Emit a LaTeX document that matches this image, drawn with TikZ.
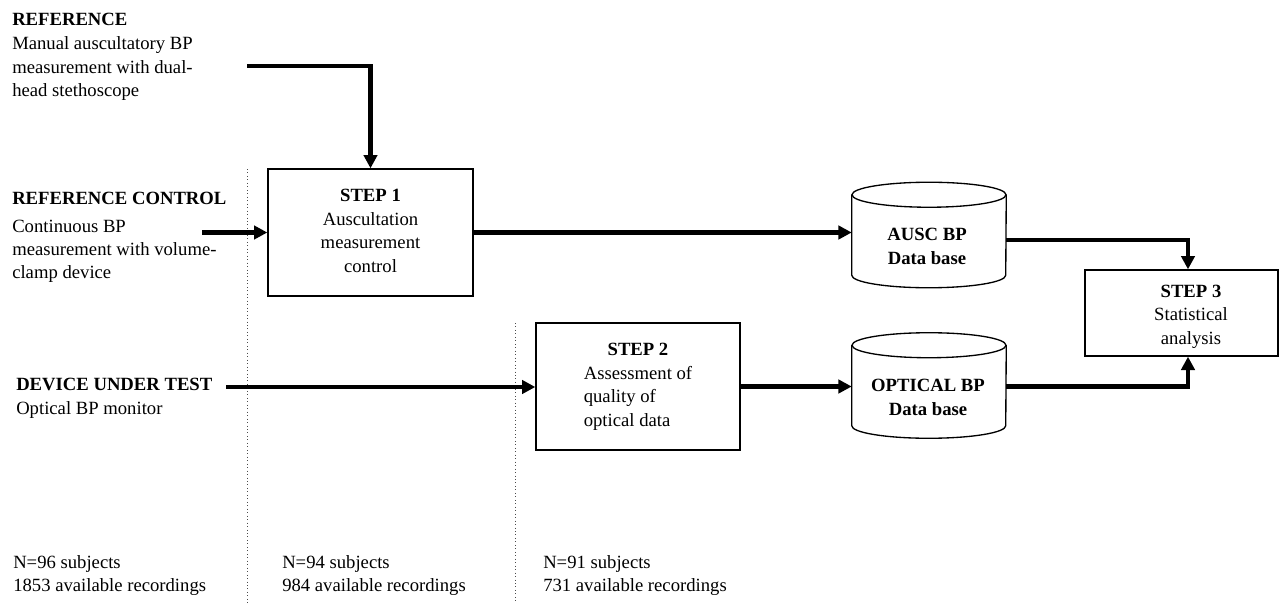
\documentclass[tikz,border=0pt]{standalone}
\usepackage{fontspec}
\setmainfont{Liberation Serif}
\usetikzlibrary{arrows.meta,calc}
\newcommand{\mytab}[2]{\begin{tabular}{@{}#1@{}}#2\end{tabular}}
\newcommand{\mytabt}[2]{\begin{tabular}[t]{@{}#1@{}}#2\end{tabular}}
\newcommand{\drawcyl}[1]{%
  \draw[cylline] ($(#1.north)+(0,12.5)$) ellipse [x radius=57.75pt, y radius=9.375pt];
  \draw[cylline] ($(#1.north west)+(0,12.5)$) -- ($(#1.south west)+(0,-12.5)$)
     arc[start angle=180, end angle=360, x radius=57.75pt, y radius=9.375pt]
     -- ($(#1.north east)+(0,12.5)$);}
\begin{document}
\begin{tikzpicture}[x=0.75pt, y=-0.75pt,
  txt/.style={font=\fontsize{14}{17.6}\selectfont, inner sep=0pt},
  boxnode/.style={draw, line width=1pt, font=\fontsize{14}{17.6}\selectfont, inner sep=0pt},
  cylline/.style={line width=1pt},
  arr/.style={line width=3.5pt, -{Triangle[length=10pt,width=10pt]}},
  divider/.style={line width=0.6pt, dotted, black!70}]
\useasboundingbox (0,0) rectangle (1279,603);
% dividers
\draw[divider] (247,169) -- (247,603);
\draw[divider] (515,323) -- (515,603);
% boxes
\node[boxnode, minimum width=153.75pt, minimum height=95.25pt] (box1) at (370.5,232.5)
  {\mytab{c}{\textbf{STEP 1}\\Auscultation\\measurement\\control}};
\node[boxnode, minimum width=153pt, minimum height=95.25pt] (box2) at (638,386.5)
  {\mytab{l}{\multicolumn{1}{@{}c@{}}{\textbf{STEP 2}}\\Assessment of\\quality of\\optical data}};
\node[boxnode, minimum width=144.75pt, minimum height=64.5pt] (box3) at (1181.5,313) {};
\node[txt] (box3t) at (1191,316) {\mytab{c}{\textbf{STEP 3}\\Statistical\\analysis}};
% cylinders
\node[minimum width=115.5pt, minimum height=78.75pt, inner sep=0pt] (ausc) at (929,235) {};
\drawcyl{ausc}
\node[txt] (ausct) at (927,248) {\mytab{c}{\textbf{AUSC BP}\\\textbf{Data base}}};
\node[minimum width=115.5pt, minimum height=78.75pt, inner sep=0pt] (opt) at (929,385.5) {};
\drawcyl{opt}
\node[txt] (optt) at (928,399) {\mytab{c}{\textbf{OPTICAL BP}\\\textbf{Data base}}};
% left texts
\node[txt, anchor=base west] (reft) at (12,26) {\textbf{REFERENCE}};
\node[txt, anchor=base west] (refb) at (12,50) {\mytabt{l}{Manual auscultatory BP\\measurement with dual-\\head stethoscope}};
\node[txt, anchor=base west] (rct) at (12,204) {\textbf{REFERENCE CONTROL}};
\node[txt, anchor=base west] (rcb) at (12,232) {\mytabt{l}{Continuous BP\\measurement with volume-\\clamp device}};
\node[txt, anchor=base west] (dutt) at (16,390) {\textbf{DEVICE UNDER TEST}};
\node[txt, anchor=base west] (dutb) at (16,414) {Optical BP monitor};
% bottom texts
\node[txt, anchor=base west] (n1) at (13,568) {\mytabt{l}{N=96 subjects\\1853 available recordings}};
\node[txt, anchor=base west] (n2) at (282,568) {\mytabt{l}{N=94 subjects\\984 available recordings}};
\node[txt, anchor=base west] (n3) at (543,568) {\mytabt{l}{N=91 subjects\\731 available recordings}};
% connectors
\coordinate (r1) at (247,66);
\draw[arr] (r1) -| (box1);
\coordinate (c1) at (202,232.5);
\draw[arr] (c1) -- (box1.west);
\draw[arr] (box1.east) -- (box1.east -| ausc.west);
\draw[arr] ($(ausc.east)+(0,5)$) -| ($(box3.north)+(6.5,0)$);
\coordinate (d1) at (226,387);
\draw[arr] (d1) -- (d1 -| box2.west);
\draw[arr] (box2.east) -- (box2.east -| opt.west);
\draw[arr] (box2.east -| opt.east) -| ($(box3.south)+(6.5,0)$);
\end{tikzpicture}
\end{document}
